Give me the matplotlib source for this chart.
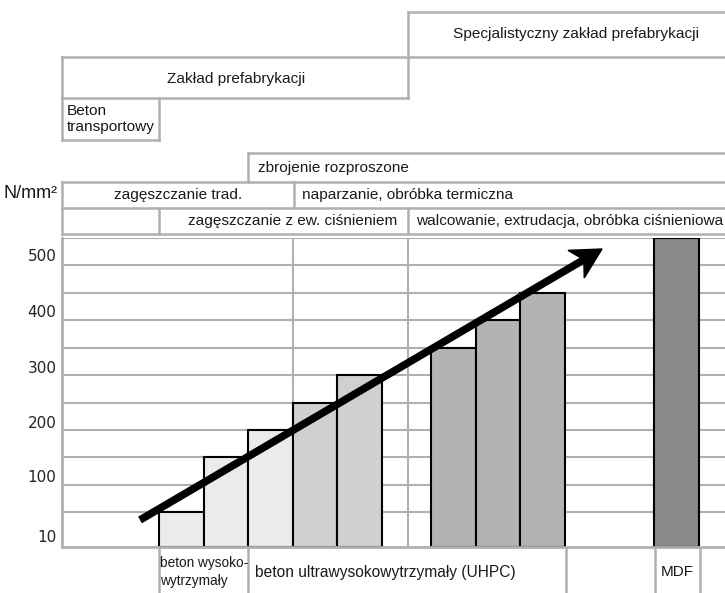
import matplotlib
matplotlib.use('Agg')
import numpy as np
import matplotlib.pyplot as plt
from matplotlib.patches import Polygon
from matplotlib.transforms import ScaledTranslation

# strength of each concrete type, N/mm2
strength = [50, 150, 200, 250, 300, 350, 400, 450, 550]
bar_colors = ['#ebebeb', '#ebebeb', '#ebebeb', '#d0d0d0', '#d0d0d0',
              '#b3b3b3', '#b3b3b3', '#b3b3b3', '#898989']
y_ticks = [10, 100, 200, 300, 400, 500]
y_tick_labels = ['10', '100', '200', '300', '400', '500']

# slot positions (left edge of each bar, in bar widths)
x_left = [0, 1, 2, 3, 4, 6.1, 7.1, 8.1, 11.1]

GRID = '#b0b0b0'
NARROW = ['Liberation Sans Narrow', 'Liberation Sans', 'DejaVu Sans']
REG = ['Liberation Sans', 'DejaVu Sans']

W, H = 725, 593
fig = plt.figure(figsize=(W / 100, H / 100), dpi=100)

# plot area in pixels: x 62..725, y 238..546.5
ax = fig.add_axes([62 / W, (H - 546.5) / H, (W - 62) / W, (546.5 - 238) / H])
ax.set_zorder(1)
ymin = -12.4
ax.set_xlim((62 - 159) / 44.6, (725 - 159) / 44.6)
ax.set_ylim(ymin, 550)

for y in range(50, 551, 50):
    ax.axhline(y, color=GRID, lw=1.5, zorder=0)
for x in [3.0, 5.583]:
    ax.axvline(x, color=GRID, lw=1.5, zorder=0)

ax.bar(np.array(x_left) + 0.5, np.array(strength) - ymin, width=1.0, bottom=ymin,
       color=bar_colors, edgecolor='black', linewidth=1.5, zorder=2)

for s in ['top', 'right']:
    ax.spines[s].set_visible(False)
for s in ['left', 'bottom']:
    ax.spines[s].set_color(GRID)
    ax.spines[s].set_linewidth(2)
ax.set_xticks([])
ax.set_yticks(y_ticks)
ax.set_yticklabels(y_tick_labels, fontsize=11, color='#222222', family='DejaVu Sans')
ax.tick_params(axis='y', length=0, pad=4)
offsets = [-2, 9, 8, 8, 9, 10]
for lab, off in zip(ax.get_yticklabels(), offsets):
    lab.set_transform(lab.get_transform() + ScaledTranslation(0, off / 100, fig.dpi_scale_trans))

# overlay in pixel coordinates for the table rows, labels and arrow
bg = fig.add_axes([0, 0, 1, 1])
bg.set_zorder(2)
bg.patch.set_visible(False)
bg.set_xlim(0, W)
bg.set_ylim(H, 0)
bg.axis('off')


def hline(y, x0, x1):
    bg.plot([x0, x1], [y, y], color=GRID, lw=1.8, solid_capstyle='projecting')


def vline(x, y0, y1):
    bg.plot([x, x], [y0, y1], color=GRID, lw=1.8, solid_capstyle='projecting')


# top block
hline(12, 408, 725)
vline(408, 12, 98)
hline(57, 62, 725)
vline(62, 57, 140)
hline(98, 62, 408)
vline(159, 98, 140)
hline(140, 62, 159)

# process rows
hline(153, 248, 725)
vline(248, 153, 182)
hline(182, 62, 725)
vline(62, 182, 234)
vline(294, 182, 208)
hline(208, 62, 725)
vline(159, 208, 234)
vline(408, 208, 234)
hline(234, 62, 725)

# below the axis
for x in [159, 248, 566, 655, 700]:
    bg.plot([x, x], [548, 593], color=GRID, lw=1.8)

tk = dict(color='#1a1a1a', family=NARROW, fontsize=11.1)
bg.text(576, 34, 'Specjalistyczny zakład prefabrykacji', ha='center', va='center', **tk)
bg.text(236, 79, 'Zakład prefabrykacji', ha='center', va='center', **tk)
bg.text(67, 119, 'Beton\ntransportowy', ha='left', va='center', linespacing=1.15, **tk)
bg.text(258, 168, 'zbrojenie rozproszone', ha='left', va='center', **tk)
bg.text(178, 195, 'zagęszczanie trad.', ha='center', va='center', **tk)
bg.text(302, 195, 'naparzanie, obróbka termiczna', ha='left', va='center', **tk)
bg.text(397, 221, 'zagęszczanie z ew. ciśnieniem', ha='right', va='center', **tk)
bg.text(416, 221, 'walcowanie, extrudacja, obróbka ciśnieniowa', ha='left', va='center', **tk)
bg.text(58, 194, 'N/mm²', ha='right', va='center', color='#1a1a1a', family=REG, fontsize=13)

bg.text(160, 572, 'beton wysoko-\nwytrzymały', ha='left', va='center', linespacing=1.3,
        color='#1a1a1a', family=NARROW, fontsize=9.8)
bg.text(255, 572, 'beton ultrawysokowytrzymały (UHPC)', ha='left', va='center',
        color='#1a1a1a', family=REG, fontsize=11.2)
bg.text(677, 572, 'MDF', ha='center', va='center', color='#1a1a1a', family=REG, fontsize=11)

# trend arrow
p0 = np.array([140.0, 520.0])
tip = np.array([602.0, 249.0])
u = (tip - p0) / np.linalg.norm(tip - p0)
n = np.array([-u[1], u[0]])
L, Wd, notch = 30.0, 32.0, 9.0
head = [tip, tip - L * u + Wd / 2 * n, tip - (L - notch) * u, tip - L * u - Wd / 2 * n]
shaft_end = tip - (L - notch) * u
bg.plot([p0[0], shaft_end[0]], [p0[1], shaft_end[1]], color='black', lw=5.5,
        solid_capstyle='butt', zorder=5)
bg.add_patch(Polygon(head, closed=True, color='black', zorder=6))

fig.savefig('out.png', dpi=100)
